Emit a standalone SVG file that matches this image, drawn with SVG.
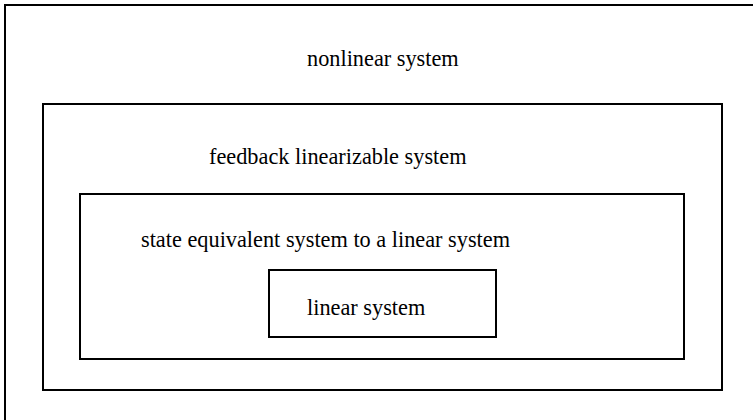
<svg xmlns="http://www.w3.org/2000/svg" width="753" height="420" viewBox="0 0 753 420">
<style>
.box{fill:none;stroke:#000;stroke-width:2}
.lbl{font-family:"Liberation Serif","Times New Roman",serif;font-size:22.3px;fill:#000}
</style>
<rect width="753" height="420" fill="#fff"/>
<g id="nonlinear">
<rect class="box" x="5" y="5" width="770" height="440"/>
<text class="lbl" x="307" y="66">nonlinear system</text>
</g>
<g id="feedback">
<rect class="box" x="43" y="104" width="679" height="286"/>
<text class="lbl" x="209" y="164">feedback linearizable system</text>
</g>
<g id="state">
<rect class="box" x="80" y="194" width="604" height="165"/>
<text class="lbl" x="141" y="247">state equivalent system to a linear system</text>
</g>
<g id="linear">
<rect class="box" x="269" y="270" width="227" height="67"/>
<text class="lbl" x="307" y="315">linear system</text>
</g>
<g id="connectors"/>
</svg>
